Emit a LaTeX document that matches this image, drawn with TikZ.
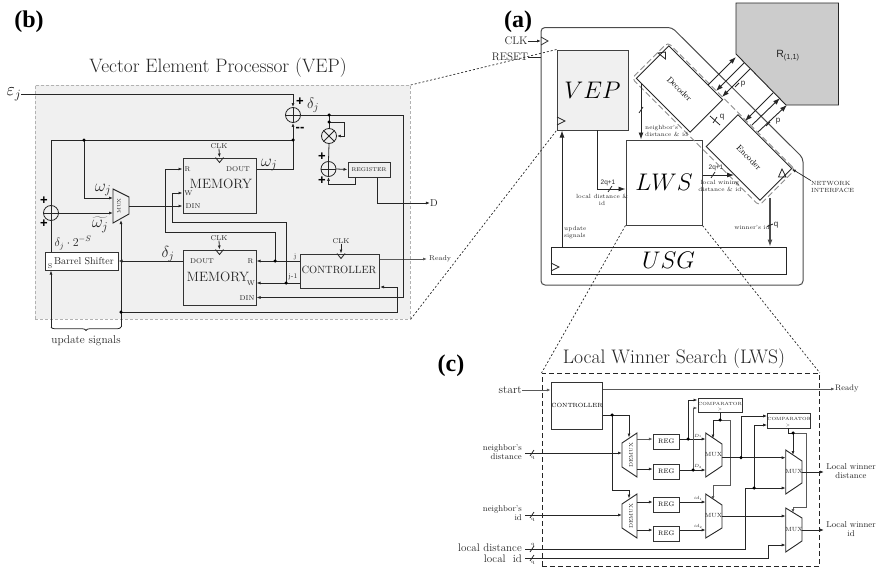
\RequirePackage{fix-cm}
\documentclass[tikz,border=0pt]{standalone}
\usepackage{fontspec}
\newfontfamily\labfont{Liberation Serif}
\newfontfamily\sanslab{Liberation Sans}
\usetikzlibrary{arrows.meta,decorations.pathreplacing,calc}
\newcommand{\fsz}[1]{\fontsize{#1}{#1}\selectfont}
\newcommand{\slashat}[2]{\draw[wire] (#1-2,#2+3) -- (#1+2,#2-3);}
\newcommand{\clktri}[2]{\draw[wire] (#1,#2-4) -- (#1+8,#2) -- (#1,#2+4);}
\tikzset{
  wire/.style={line width=0.8pt,draw=black!85},
  hwire/.style={line width=1pt,draw=black!65},
  arr/.style={wire,-{Latex[length=4pt,width=3pt]}},
  harr/.style={hwire,-{Latex[length=4pt,width=3pt]}},
  barr/.style={wire,line width=0.9pt,-{Latex[length=7pt,width=5pt]}},
  box/.style={draw=black!80,line width=1pt,inner sep=0,fill=white},
  vbox/.style={draw=black!75,line width=1pt,inner sep=0},
  txt/.style={inner sep=0,text=black!85},
  sumc/.style={circle,draw=black!85,line width=0.8pt,minimum size=15pt,inner sep=0},
  jdot/.style={circle,fill=black,inner sep=0,minimum size=3.5pt},
  zoomline/.style={line width=0.7pt,draw=black!85,dash pattern=on 2pt off 2pt},
  muxs/.style={draw=black!85,line width=0.9pt},
  plusm/.style={inner sep=0,text=black,font=\sanslab\bfseries\fsz{13}},
  small6/.style={txt,font=\fontsize{6}{7}\selectfont},
  small8/.style={txt,font=\fontsize{8.5}{9}\selectfont},
}
\begin{document}
\begin{tikzpicture}[x=1pt,y=-1pt]
\useasboundingbox (0,0) rectangle (879,570);
% ---------- (b) VEP ----------
\node[txt,text=black] (labb) at (29,22) {\labfont\fsz{24}\bfseries (b)};
\node[txt] (vtitle) at (218,68) {\fsz{19.4}Vector Element Processor (VEP)};
\node[draw=black!30,dash pattern=on 3pt off 2pt,fill=black!6,minimum width=375.5pt,minimum height=233.5pt,anchor=north west,inner sep=0,line width=0.7pt] (vepbg) at (34.5,85) {};
\node[txt,text=black] (eps) at (14,94) {\fsz{18}$\varepsilon_j$};
\node[sumc] (a1) at (293,115) {};
\draw[wire] (a1.north)--(a1.south) (a1.west)--(a1.east);
\draw[arr] (eps.east) -| (a1.north);
\node[plusm] (p1) at (300,102) {+};
\node[plusm] (m1) at (300,129) {--};
\node[txt] (dj1) at (313,105) {\fsz{15}$\delta_j$};
\node[box,minimum width=73pt,minimum height=55pt,fill=none] (mem1) at (219.5,185.5) {};
\node[box,minimum width=73pt,minimum height=55pt,fill=none] (mem2) at (219.5,277.5) {};
\node[txt] at (221,184) {\fsz{13.5}MEMORY};
\node[txt] at (218,277) {\fsz{13.5}MEMORY};
\node[txt] (clk1) at (219,146) {\fsz{7}CLK};
\node[txt] (clk2) at (219,238) {\fsz{7}CLK};
\draw[arr] (clk1.south) -- (mem1.north);
\draw[arr] (clk2.south) -- (mem2.north);
\draw[wire] ([xshift=-4pt]mem1.north) -- ([yshift=-5pt]mem1.north) -- ([xshift=4pt]mem1.north);
\draw[wire] ([xshift=-4pt]mem2.north) -- ([yshift=-5pt]mem2.north) -- ([xshift=4pt]mem2.north);
\node[txt] at (187.5,169) {\fsz{7}R};
\node[txt] at (238,169) {\fsz{7}DOUT};
\node[txt] at (188.5,193) {\fsz{7}W};
\node[txt] at (193,206) {\fsz{7}DIN};
\node[txt] at (202,261) {\fsz{7}DOUT};
\node[txt] at (250.5,261) {\fsz{7}R};
\node[txt] at (251,283) {\fsz{7}W};
\node[txt] at (247,298) {\fsz{7}DIN};
\node[txt] (wj1) at (269,165) {\fsz{17}$\omega_j$};
\node[txt] (dj2) at (168,254) {\fsz{16}$\delta_j$};
\node[box,minimum width=72.5pt,minimum height=18pt] (bs) at (81.75,261) {};
\node[txt] at (84,261) {\fsz{10}Barrel Shifter};
\node[txt] at (50,266) {\fsz{7}S};
\node[txt] (dj3) at (73,243) {\fsz{12}$\delta_j\cdot 2^{-S}$};
\node[sumc] (a2) at (51,213) {};
\draw[wire] (a2.north)--(a2.south) (a2.west)--(a2.east);
\node[plusm] at (44,201) {+};
\node[plusm] at (44,224) {+};
\coordinate (v1) at (113,189); \coordinate (v2) at (129,197); \coordinate (v3) at (129,214); \coordinate (v4) at (113,223);
\coordinate (vin1) at (113,198); \coordinate (vin2) at (113,213); \coordinate (vout) at (129,206); \coordinate (vsel) at (121,220);
\draw[muxs] (v1)--(v2)--(v3)--(v4)--cycle;
\node[txt,rotate=90] at (119,206) {\fsz{5}MUX};
\node[txt] at (103,190) {\fsz{17}$\omega_j$};
\node[txt] at (100,225) {\fsz{17}$\widetilde{\omega_j}$};
\coordinate (j1) at (293,140); \coordinate (j2) at (84,140); \coordinate (k1) at (51,140);
\draw[arr] (j1) -- (a1.south);
\draw[wire] (k1) -- (j1);
\draw[wire] (mem1.east |- 0,169) -| (j1);
\draw[wire] (k1) -- (a2.north);
\draw[arr] (j2) |- (vin1);
\draw[arr] (a2.east) -- (vin2);
\draw[wire] (bs.north -| a2) -- (a2.south);
\draw[arr] (vout) -- (mem1.west |- vout);
\node[box,minimum width=79.5pt,minimum height=34pt,fill=none] (ctl) at (339.75,271) {};
\node[txt] at (339,270) {\fsz{10.5}CONTROLLER};
\node[txt] (clk3) at (341,241) {\fsz{7}CLK};
\draw[arr] (clk3.south) -- (ctl.north -| clk3);
\draw[wire] ($(ctl.north -| clk3)+(-4,0)$) -- ($(ctl.north -| clk3)+(0,5)$) -- ($(ctl.north -| clk3)+(4,0)$);
\node[txt] at (295,257) {\fsz{7}j};
\node[txt] at (293,277) {\fsz{7}j-1};
\coordinate (cr) at (300,261); \coordinate (cw) at (300,283); \coordinate (jr) at (275,261); \coordinate (jw) at (286,283);
\draw[arr] (cr) -- (mem2.east |- cr);
\draw[arr] (cw) -- (mem2.east |- cw);
\draw[arr] (jr) |- (275,232) -- (165,232) |- (mem1.west |- 0,169);
\draw[arr] (jw) -- (286,222) -- (172,222) |- (mem1.west |- 0,193);
\draw[arr] (mem2.west |- cr) -- (bs.east |- cr);
\draw[harr] (ctl.east |- 0,259) -- (427,259) coordinate (rdy1);
\node[txt,anchor=west] at (429,259) {\fsz{7}Ready};
\coordinate (s1) at (51,327); \coordinate (s2) at (121,327); \coordinate (j3) at (121,312);
\draw[arr] (s1) -- (bs.south -| s1);
\draw[arr] (s2) -- (vsel);
\draw[wire] (j3) -- (397,312) -- (397,287);
\draw[arr] (397,287) -- (ctl.east |- 0,287);
\draw[decorate,decoration={brace,mirror,amplitude=3.5pt},wire] (s1) -- (s2);
\node[txt] at (86,341) {\fsz{11.3}update signals};
\coordinate (o1) at (403,115);
\draw[wire] (a1.east) -- (o1);
\draw[arr] (o1) |- (mem2.east |- 0,297.5);
\node[sumc] (mul) at (329,136) {};
\draw[wire] (mul.north west)--(mul.south east) (mul.north east)--(mul.south west);
\node[sumc] (a3) at (328.5,169) {};
\draw[wire] (a3.north)--(a3.south) (a3.west)--(a3.east);
\coordinate (t1) at (329,115); \coordinate (t2) at (329,122);
\draw[wire] (t1) -- (mul.north);
\draw[arr] (t2) -- (344,122) |- (mul.east);
\draw[wire] (mul.south) -- (a3.north);
\node[plusm] at (322,157) {+};
\node[plusm] at (322,181) {+};
\node[box,minimum width=42pt,minimum height=15pt,fill=none] (reg) at (369,169.5) {};
\node[txt] at (369,169.5) {\fsz{5.5}REGISTER};
\draw[arr] (a3.east) -- (reg.west);
\draw[arr] (reg.south -| 355,0) -- (355,184) -| (a3.south);
\node[txt] (dout) at (434,203) {\fsz{10}D};
\draw[arr] (reg.south -| 377,0) |- (dout.west);
\foreach \c in {j1,j2,jr,jw,j3,t1,t2} \node[jdot] at (\c) {};
% ---------- (a) ----------
\node[txt,text=black] (laba) at (518,22) {\labfont\fsz{24}\bfseries (a)};
\draw[line width=1pt,draw=black!70,rounded corners=4pt] (541,27.5) -- (672,27.5) -- (803,158) -- (803,285) -- (541,285) -- cycle;
\draw[line width=0.9pt,draw=black!85,fill=black!20] (736,3) -- (838.5,3) -- (838.5,105) -- (786,105) -- (736,54) -- cycle;
\node[inner sep=0,text=black!85] (rname) at (788,56) {\sanslab\fsz{10.5}R\textsubscript{(1,1)}};
\node[inner sep=0,minimum width=76pt,minimum height=46pt,draw=black!85,line width=0.9pt,rotate=-45,fill=white] (dec) at (679.5,89) {\fsz{8.5}Decoder};
\node[inner sep=0,minimum width=76pt,minimum height=45pt,draw=black!85,line width=0.9pt,rotate=-45,fill=white] (enc) at (749,157.5) {\fsz{8.5}Encoder};
\draw[wire] (658,53) -- (665.5,52) -- (665.5,59) -- cycle;
\draw[wire] (782,169) -- (778.5,177) -- (786,177) -- cycle;
\node[vbox,fill=black!6,minimum width=71pt,minimum height=80pt] (vepa) at (592.5,90) {\fsz{24}$VEP$};
\clktri{557}{121}
\node[vbox,fill=white,minimum width=76pt,minimum height=85pt] (lws) at (664,182.5) {\fsz{24}$LWS$};
\node[box,draw=black!85,line width=0.9pt,minimum width=235pt,minimum height=27pt] (usg) at (668.5,260.5) {\fsz{24}$USG$};
\clktri{551}{267}
\node[txt] (clka) at (516,41) {\fsz{11}CLK};
\node[txt] (rsta) at (510,57) {\fsz{11}RESET};
\coordinate (clkin) at (541,41);
\draw[arr] (clka.east) -- (clkin);
\draw[wire] (541,37) -- (548,41) -- (541,45);
\draw[wire] (rsta.east) -- (541,57);
% network interface
\node[minimum width=180pt,minimum height=51pt,rotate=-45,draw=black!45,line width=0.9pt,dash pattern=on 6pt off 3pt,rounded corners=4pt,inner sep=0] (ni) at (713.5,124) {};
% router links
\coordinate (l1) at (708,85); \coordinate (r1) at (736,57);
\coordinate (r2) at (744,63); \coordinate (l2) at (716,91);
\coordinate (r3) at (750,69); \coordinate (l3) at (722,97);
\coordinate (l4) at (745,121); \coordinate (r4) at (773,93);
\coordinate (l5) at (752,125); \coordinate (r5) at (780,98);
\coordinate (l6) at (758,132); \coordinate (r6) at (787,105);
\draw[barr] (l1) -- (r1);
\draw[barr] (r2) -- (l2);
\draw[barr] (r3) -- (l3);
\draw[barr] (r4) -- (l4);
\draw[barr] (l5) -- (r5);
\draw[barr] (l6) -- (r6);
\draw[wire] (739,83) -- (735,87);
\draw[wire] (770,122) -- (766,126);
\node[inner sep=0,text=black!85] at (743,84) {\sanslab\fsz{8}p};
\node[inner sep=0,text=black!85] at (778,121) {\sanslab\fsz{8}p};
\coordinate (qa) at (710,116); \coordinate (qb) at (720,125);
\draw[wire] (qa) -- (qb);
\slashat{715}{120}
\node[inner sep=0,text=black!85] at (722,117) {\sanslab\fsz{8}q};
\coordinate (ups) at (562,247); \coordinate (vepo) at (597,130); \coordinate (vepc) at (597,189);
\draw[barr] (usg.north -| ups) -- (vepa.south -| ups);
\node[small6,align=left,anchor=west] at (564,232.5) {update\\signals};
\draw[barr] (vepo) |- (lws.west |- vepc);
\node[inner sep=0,text=black!85] at (608,183) {\sanslab\fsz{6.5}2q+1};
\slashat{610}{189}
\node[small6,align=center] at (602,199.5) {local distance \&\\id};
\coordinate (dd) at (641,83);
\draw[barr] (dd) -- (lws.north -| dd);
\slashat{641}{110}
\node[small6,align=left,anchor=west] at (645,130.5) {neighbor's\\distance \& id};
\coordinate (lo) at (734,175);
\draw[barr] (lws.east |- lo) -- (lo);
\node[inner sep=0,text=black!85] at (716,168) {\sanslab\fsz{6.5}2q+1};
\slashat{713}{175}
\node[small6,align=center] at (720,186) {local wining\\distance \& id};
\coordinate (eo) at (770,198);
\draw[barr,line width=1.1pt,draw=black!70] (eo) -- (usg.north -| eo);
\node[small6] at (752,227) {winner's id};
\draw[wire] (767,226.5) -- (773,224);
\node[inner sep=0,text=black!85] at (776,225) {\sanslab\fsz{8}q};
\coordinate (nip) at (792,169);
\node[small6,align=left,anchor=west] (nitxt) at (811,186.5) {NETWORK\\INTERFACE};
\draw[wire,line width=0.7pt,{Latex[length=4pt,width=3pt]}-] (nip) -- (nitxt.north west);
% zoom lines
\draw[zoomline] (vepbg.north east) -- (vepa.north west);
\draw[zoomline] (vepbg.south east) -- (vepa.south west);
% ---------- (c) ----------
\node[txt,text=black] (labc) at (451,366) {\labfont\fsz{24}\bfseries (c)};
\node[txt] (ctitle) at (674,359) {\fsz{19.6}Local Winner Search (LWS)};
\node[draw=black!85,line width=0.9pt,dash pattern=on 5pt off 3pt,minimum width=277.5pt,minimum height=193pt,anchor=north west,inner sep=0] (lwsbox) at (541.5,373) {};
\draw[zoomline] (lws.south west) -- (lwsbox.north west);
\draw[zoomline] (lws.south east) -- (lwsbox.north east);
\node[box,minimum width=48pt,minimum height=47pt,fill=none] (cctl) at (577,405.5) {\fsz{6}CONTROLLER};
\node[txt,anchor=east] (st) at (522,390) {\fsz{11.5}start};
\draw[harr] (st.east) -- (cctl.west |- st);
\node[txt,anchor=west] (rdy) at (835,389) {\fsz{8}Ready};
\draw[harr] (cctl.east |- rdy) -- (rdy.west);
\node[small8,anchor=east,align=right] (nd) at (522,452.5) {neighbor's\\distance};
\node[small8,anchor=east,align=right] (ni2) at (522,513.5) {neighbor's\\id};
\node[txt,anchor=east] (ld) at (522,548) {\fsz{11}local distance};
\node[txt,anchor=east] (li) at (522,559) {\fsz{11}local\ \ id};
% demux
\draw[muxs] (622,443)--(637,433)--(637,477)--(622,467)--cycle;
\draw[muxs] (622,504)--(637,494)--(637,538)--(622,528)--cycle;
\node[txt,rotate=90] (dm1) at (631,455) {\fsz{5.5}DEMUX};
\node[txt,rotate=90] (dm2) at (631,516) {\fsz{5.5}DEMUX};
\node[box,minimum width=26pt,minimum height=15pt,fill=none] (r1c) at (666.3,441.5) {\fsz{6.5}REG};
\node[box,minimum width=26pt,minimum height=15pt,fill=none] (r2c) at (666.3,471.5) {\fsz{6.5}REG};
\node[box,minimum width=26pt,minimum height=15pt,fill=none] (r3c) at (666.3,504.5) {\fsz{6.5}REG};
\node[box,minimum width=26pt,minimum height=15pt,fill=none] (r4c) at (666.3,533.5) {\fsz{6.5}REG};
\draw[muxs] (705.7,433)--(722,444)--(722,466)--(705.7,477)--cycle;
\draw[muxs] (705.7,494)--(722,505)--(722,528)--(705.7,538)--cycle;
\draw[muxs] (785.7,450)--(802,461)--(802,483)--(785.7,494)--cycle;
\draw[muxs] (785.7,508)--(802,518)--(802,541)--(785.7,552)--cycle;
\node[txt] at (713.5,455) {\fsz{6}MUX};
\node[txt] at (713.5,516) {\fsz{6}MUX};
\node[txt] at (794,472) {\fsz{6}MUX};
\node[txt] at (794,530) {\fsz{6}MUX};
\node[box,minimum width=44pt,minimum height=14pt,fill=none] (cmp1) at (720,405) {};
\node[box,minimum width=43pt,minimum height=15pt,fill=none] (cmp2) at (789.2,420.5) {};
\node[txt] at (720,403.5) {\fsz{4.5}COMPARATOR};
\node[txt] at (720,409.5) {\fsz{4}>};
\node[txt] at (789.2,419) {\fsz{4.5}COMPARATOR};
\node[txt] at (788,425.5) {\fsz{4}>};
% control
\coordinate (c0) at (612,415);
\draw[arr] (cctl.east |- c0) -- (629,415) -- (629,437.5);
\draw[arr] (c0) -- (612,490) -- (629,490) -- (629,498.5);
% inputs
\draw[arr] (525,453) -- (622,453);
\draw[arr] (525,515) -- (622,515);
\slashat{532}{453} \slashat{532}{515} \slashat{532}{549} \slashat{532}{558}
\node[txt] at (533,458) {\fsz{5}q};
\node[txt] at (533,520) {\fsz{5}q};
\node[txt] at (533,545) {\fsz{5}q};
\node[txt] at (533,563) {\fsz{5}q};
% demux to reg
\draw[harr] (637,439) -- (r1c.west |- 0,439);
\draw[arr] (637,469) -- (r2c.west |- 0,469);
\draw[arr] (637,502) -- (r3c.west |- 0,502);
\draw[arr] (637,530) -- (r4c.west |- 0,530);
% reg to mux
\coordinate (q1) at (688,439); \coordinate (q2) at (693,470);
\draw[arr] (r1c.east |- q1) -- (705.7,439);
\draw[arr] (r2c.east |- q2) -- (705.7,470);
\draw[arr] (r3c.east |- 0,502) -- (705.7,502);
\draw[arr] (r4c.east |- 0,530) -- (705.7,530);
\draw[arr] (q1) |- (cmp1.west |- 0,400);
\draw[harr] (q2) |- (cmp1.west |- 0,408);
\node[txt] at (698,436) {\fsz{4.5}$D_1$};
\node[txt] at (698,466.5) {\fsz{4.5}$D_2$};
\node[txt] at (698,498) {\fsz{4.5}$id_1$};
\node[txt] at (698,526.5) {\fsz{4.5}$id_2$};
% comparator 1
\coordinate (s3) at (720,420);
\draw[wire] (cmp1.south) -- (s3);
\draw[arr] (s3) -- (713,420) -- (713,438.5);
\draw[harr] (s3) -- (730,420) -- (730,485) -- (713,485) -- (713,500);
% mux A to C
\coordinate (q3) at (741,457.7);
\draw[arr] (722,457.7) -- (785.7,457.7);
\draw[arr] (q3) |- (cmp2.west |- 0,416);
\draw[arr] (722,516) -- (785.7,516);
% local inputs
\coordinate (q4) at (754,488);
\draw[arr] (525,549) -- (745,549) -- (745,488) -- (785.7,488);
\draw[arr] (q4) |- (cmp2.west |- 0,425);
\draw[arr] (525,558) -- (768,558) -- (768,545) -- (785.7,545);
% comparator 2
\coordinate (s4) at (793,433);
\draw[wire] (788,428) -- (788,433) -- (s4);
\draw[arr] (s4) -- (793,455);
\draw[harr] (s4) -- (806,433) -- (806,507) -- (793,507) -- (793,513);
\foreach \c in {c0,q1,q2,s3,q3,q4,s4} \node[jdot] at (\c) {};
% outputs
\node[small8,align=center] (o1c) at (851,471.5) {Local winner\\distance};
\node[small8,align=center] (o2c) at (851,529) {Local winner\\id};
\draw[arr] (802,472) -- (824,472);
\draw[arr] (802,530) -- (824,530);
\end{tikzpicture}
\end{document}
